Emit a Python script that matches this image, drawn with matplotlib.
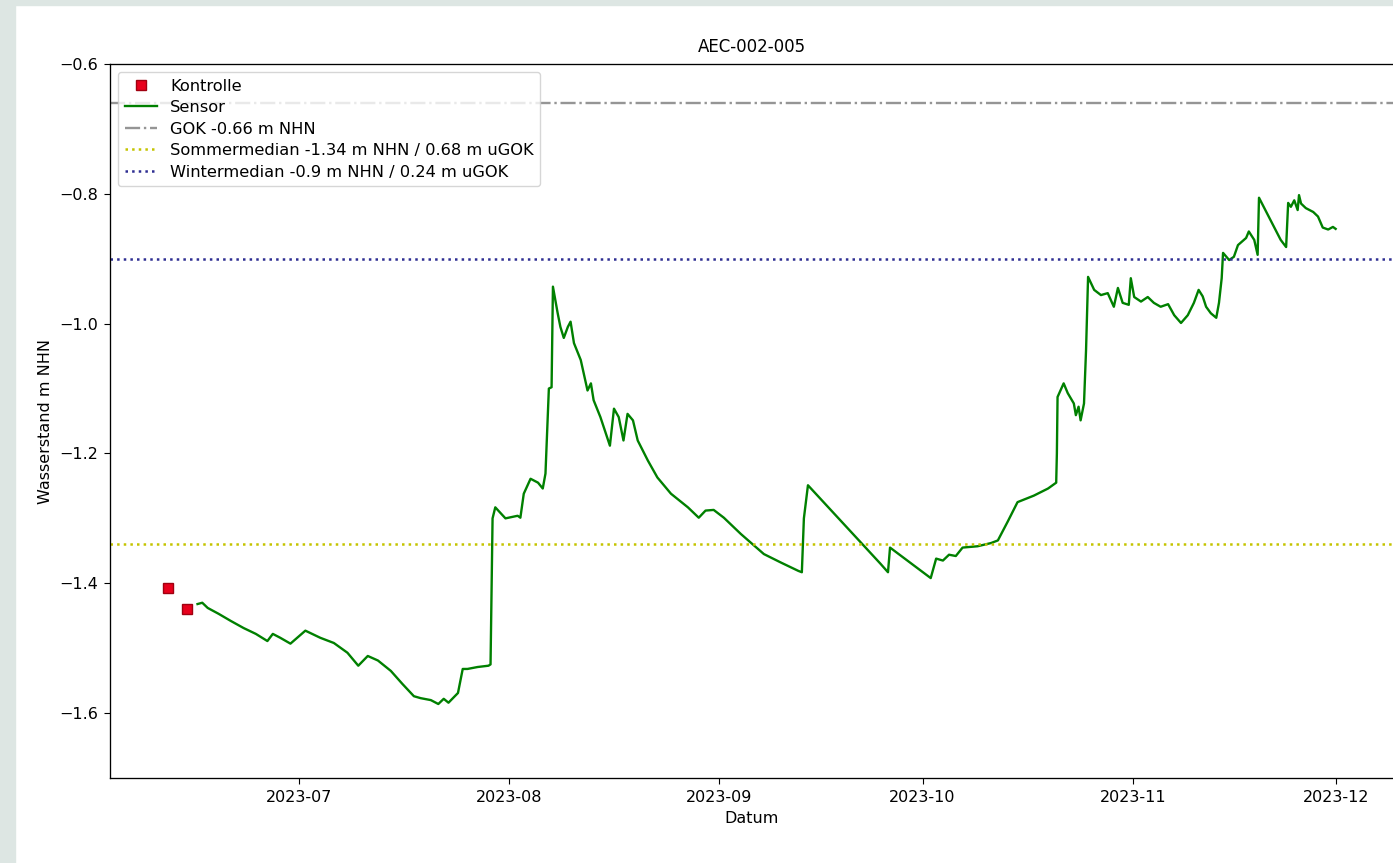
import datetime as dt
import matplotlib
matplotlib.use('Agg')
import matplotlib.pyplot as plt
import matplotlib.dates as mdates
from matplotlib.patches import Rectangle

# Screenshot ist etwas vergroessert -> alles leicht skalieren
plt.rcParams['font.size'] = 11.5
plt.rcParams['xtick.major.size'] = 4.2
plt.rcParams['ytick.major.size'] = 4.2
plt.rcParams['xtick.major.pad'] = 4.5
plt.rcParams['ytick.major.pad'] = 4.5
plt.rcParams['axes.linewidth'] = 0.95

# Messstelle AEC-002-005, Werte
titel = 'AEC-002-005'
basis = dt.datetime(2023, 7, 1)

# Kontrollmessungen (Tage relativ zum 01.07.2023, m NHN)
kontrolle_tage = [-19.2, -16.5]
kontrolle_wert = [-1.408, -1.439]

# Sensor (Tage relativ zum 01.07.2023, m NHN)
sensor_tage = [
    -14.9, -14.2, -13.4, -11.8, -10.0, -8.1, -6.3, -4.6, -3.8, -2.7, -1.2,
    1.0, 3.2, 5.2, 7.2, 8.8, 10.2, 11.7, 13.6, 15.3, 17.0, 18.0, 19.5, 20.6,
    21.4, 22.1, 23.5, 24.2, 24.9, 26.4, 28.0, 28.3, 28.6, 29.0,
    30.5, 32.3, 32.7, 33.2, 34.2, 35.3, 36.0, 36.4, 36.9, 37.3, 37.5, 38.2,
    38.6, 39.1, 39.7, 40.1, 40.6, 41.6, 42.6, 43.1, 43.5, 44.5, 45.9, 46.5,
    47.2, 47.9, 48.5, 49.3, 50.0, 51.5, 52.9, 54.9, 57.4, 59.0, 60.0, 61.2,
    62.7, 65.2, 68.6, 71.1, 73.7, 74.2, 74.5, 75.1,
    85.8, 86.9, 87.2, 93.2, 94.0, 95.0, 95.9, 96.9, 97.9, 100.1, 102.1, 103.1,
    104.6, 106.0, 108.4, 110.5, 111.7, 111.8, 111.9, 112.8, 113.4, 114.3,
    114.6, 115.0, 115.3, 115.8, 116.1, 116.4, 117.3, 118.3, 119.3, 120.2,
    120.8, 121.5, 122.4, 122.7, 123.2, 124.2, 125.2, 126.1, 127.1, 128.2,
    129.1, 130.1, 131.1, 132.0, 132.7, 133.3, 133.8, 134.5, 135.3, 135.7,
    136.1, 136.3, 137.2, 137.9, 138.5, 139.7, 140.1, 140.9, 141.4, 141.6,
    144.8, 145.6, 145.9, 146.3, 146.8, 147.3, 147.5, 147.8, 148.5, 149.6,
    150.3, 151.0, 151.8, 152.5, 152.9,
]
sensor_wert = [
    -1.432, -1.430, -1.438, -1.447, -1.458, -1.469, -1.478, -1.489, -1.478, -1.484, -1.493,
    -1.473, -1.484, -1.492, -1.507, -1.527, -1.512, -1.519, -1.535, -1.555, -1.574, -1.577, -1.580, -1.586,
    -1.578, -1.584, -1.569, -1.532, -1.532, -1.529, -1.527, -1.525, -1.300, -1.283,
    -1.300, -1.296, -1.299, -1.262, -1.239, -1.245, -1.254, -1.231, -1.100, -1.098, -0.943, -0.984,
    -1.005, -1.022, -1.005, -0.997, -1.030, -1.056, -1.103, -1.092, -1.118, -1.144, -1.188, -1.131,
    -1.144, -1.180, -1.139, -1.149, -1.180, -1.211, -1.237, -1.262, -1.283, -1.299, -1.288, -1.287,
    -1.299, -1.324, -1.355, -1.368, -1.381, -1.383, -1.300, -1.249,
    -1.370, -1.383, -1.345, -1.392, -1.362, -1.365, -1.356, -1.358, -1.345, -1.343, -1.338, -1.334,
    -1.304, -1.275, -1.265, -1.254, -1.245, -1.200, -1.113, -1.092, -1.107, -1.123,
    -1.141, -1.128, -1.149, -1.123, -1.041, -0.928, -0.948, -0.956, -0.953, -0.974,
    -0.945, -0.968, -0.971, -0.930, -0.959, -0.966, -0.959, -0.968, -0.974, -0.970,
    -0.987, -0.999, -0.987, -0.968, -0.948, -0.958, -0.974, -0.984, -0.991, -0.968,
    -0.930, -0.891, -0.902, -0.897, -0.879, -0.868, -0.858, -0.871, -0.894, -0.806,
    -0.871, -0.882, -0.814, -0.820, -0.810, -0.825, -0.802, -0.815, -0.822, -0.828,
    -0.835, -0.852, -0.855, -0.851, -0.854,
]

gok = -0.66
sommer_median = -1.34
winter_median = -0.9

kontrolle_datum = [basis + dt.timedelta(days=t) for t in kontrolle_tage]
sensor_datum = [basis + dt.timedelta(days=t) for t in sensor_tage]

fig = plt.figure(figsize=(13.93, 8.63), dpi=100, facecolor='white')
# grauer Seitenrand des Screenshots
fig.add_artist(Rectangle((0, 0), 15 / 1393, 1, transform=fig.transFigure,
                         color='#dde6e3', zorder=-5))
fig.add_artist(Rectangle((0, 1 - 5 / 863), 1, 5 / 863, transform=fig.transFigure,
                         color='#dde6e3', zorder=-5))

ax = fig.add_axes([110 / 1393, 1 - 778 / 863, 1284 / 1393, 714 / 863])

ax.plot(kontrolle_datum, kontrolle_wert, 's', color='#e8001c', markeredgecolor='#a00010',
        markersize=7.5, linestyle='none', label='Kontrolle')
ax.plot(sensor_datum, sensor_wert, color='green', lw=1.7, label='Sensor')
ax.axhline(gok, color='#959595', ls='-.', lw=1.7, label='GOK %s m NHN' % gok)
ax.axhline(sommer_median, color='#c4c400', ls=':', lw=1.8,
           label='Sommermedian %s m NHN / %s m uGOK' % (sommer_median, round(gok - sommer_median, 2)))
ax.axhline(winter_median, color='#2e2e92', ls=':', lw=1.8,
           label='Wintermedian %s m NHN / %s m uGOK' % (winter_median, round(gok - winter_median, 2)))

ax.set_ylim(-1.7, -0.6)
ax.xaxis.set_major_locator(mdates.MonthLocator())
ax.xaxis.set_major_formatter(mdates.DateFormatter('%Y-%m'))

ax.set_title(titel, fontsize=12, pad=9)
ax.set_xlabel('Datum')
ax.set_ylabel('Wasserstand m NHN')
ax.legend(loc='upper left', fontsize=11.7, labelspacing=0.4)

fig.savefig('out.png', dpi=100, facecolor=fig.get_facecolor())
